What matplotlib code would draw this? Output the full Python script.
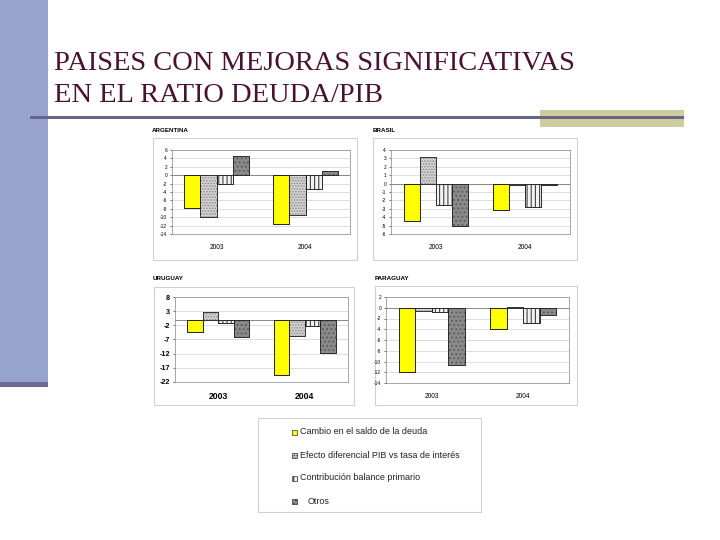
import numpy as np
import matplotlib.pyplot as plt
from matplotlib.patches import Rectangle

plt.rcParams['hatch.linewidth'] = 0.8
plt.rcParams['axes.unicode_minus'] = False

years = ["2003", "2004"]
series = ["Cambio en el saldo de la deuda",
          "Efecto diferencial PIB vs tasa de interés",
          "Contribución balance primario",
          "Otros"]

arg_2003 = [-7.8, -10.0, -2.2, 4.5]
arg_2004 = [-11.6, -9.4, -3.4, 1.0]
bra_2003 = [-4.4, 3.2, -2.5, -5.1]
bra_2004 = [-3.1, -0.2, -2.8, -0.2]
uru_2003 = [-4.4, 2.6, -1.2, -6.0]
uru_2004 = [-19.7, -5.8, -2.4, -11.6]
par_2003 = [-12.0, -0.6, -0.7, -10.7]
par_2004 = [-3.9, 0.2, -2.9, -1.4]

W, H = 720, 540
fig = plt.figure(figsize=(7.2, 5.4), dpi=100)
fig.patch.set_facecolor("white")


def box(x0, y0, x1, y1):
    return [x0 / W, 1 - y1 / H, (x1 - x0) / W, (y1 - y0) / H]


# slide decoration
deco = fig.add_axes([0, 0, 1, 1])
deco.set_xlim(0, W)
deco.set_ylim(H, 0)
deco.axis("off")
deco.add_patch(Rectangle((0, 0), 48, 382, color="#96a3cd", lw=0))
deco.add_patch(Rectangle((0, 382), 48, 5, color="#6b6b8f", lw=0))
deco.add_patch(Rectangle((540, 110), 144, 17, color="#cfcca0", lw=0))
deco.add_patch(Rectangle((30, 115.5), 654, 3.5, color="#666688", lw=0))
deco.text(54, 70, "PAISES CON MEJORAS SIGNIFICATIVAS", fontsize=20.5,
          family="Liberation Serif", color="#4a1232", va="baseline")
deco.text(54, 102, "EN EL RATIO DEUDA/PIB", fontsize=20.5,
          family="Liberation Serif", color="#4a1232", va="baseline")

# panel frames and titles
for fx0, fy0, fx1, fy1 in [(153, 138, 357, 260), (373, 138, 577, 260),
                           (154, 287, 354, 405), (375, 286, 577, 405),
                           (258, 418, 481, 512)]:
    deco.add_patch(Rectangle((fx0, fy0), fx1 - fx0, fy1 - fy0, fill=False,
                             ec="#d0d0d0", lw=0.8))
for tx, ty, name in [(152, 131, "ARGENTINA"), (373, 131, "BRASIL"),
                     (153, 279, "URUGUAY"), (375, 279, "PARAGUAY")]:
    deco.text(tx, ty, name, fontsize=4.5, fontweight="bold",
              family="Liberation Sans", va="center")

faces = ["#ffff00", "#d4d4d4", "#f2f2f2", "#8a8a8a"]
hatches = [None, "......", "||||", "...."]
hcolors = ["black", "#8a8a8a", "#444444", "#5a5a5a"]


def panel(rect, v03, v04, ylim, ticks, tsize, ysize, bold):
    ax = fig.add_axes(box(*rect))
    x = np.arange(len(years))
    w = 0.18
    vals = np.array([v03, v04])
    for i in range(4):
        bars = ax.bar(x + (i - 1.5) * w, vals[:, i], w, color=faces[i],
                      hatch=hatches[i], edgecolor=hcolors[i], lw=0.5, zorder=3)
        for b in bars:
            ax.add_patch(Rectangle(b.get_xy(), b.get_width(), b.get_height(),
                                   fill=False, ec="#222222", lw=0.6, zorder=4))
    ax.set_xlim(-0.5, 1.5)
    ax.set_ylim(*ylim)
    ax.set_yticks(ticks)
    ax.yaxis.grid(True, color="#d8d8d8", lw=0.6, zorder=0)
    ax.axhline(0, color="#888888", lw=0.7, zorder=2)
    ax.set_xticks(x)
    ax.set_xticklabels(years, fontsize=ysize,
                       fontweight="bold" if bold else "normal",
                       family="Liberation Sans")
    ax.tick_params(axis="x", length=0, pad=7)
    ax.tick_params(axis="y", labelsize=tsize, length=1.5, width=0.4, pad=2)
    for t in ax.get_yticklabels():
        t.set_family("Liberation Sans")
        if bold:
            t.set_fontweight("bold")
    for s in ax.spines.values():
        s.set_color("#999999")
        s.set_linewidth(0.6)
    return ax


panel((172, 150, 350, 234), arg_2003, arg_2004, (-14, 6),
      np.arange(-14, 7, 2), 3.5, 4.8, False)
panel((391, 150, 570, 234), bra_2003, bra_2004, (-6, 4),
      np.arange(-6, 5, 1), 3.5, 4.8, False)
panel((175, 297, 348, 382), uru_2003, uru_2004, (-22, 8),
      np.arange(-22, 9, 5), 5.2, 6.2, True)
panel((386, 297, 569, 383), par_2003, par_2004, (-14, 2),
      np.arange(-14, 3, 2), 3.5, 4.8, False)

# legend
ly = [432, 455, 478, 501]
for i, name in enumerate(series):
    deco.add_patch(Rectangle((292, ly[i] - 2.5), 5, 5, facecolor=faces[i],
                             hatch=hatches[i], edgecolor="#333333", lw=0.5))
    tx = 308 if name == "Otros" else 300
    deco.text(tx, ly[i], name, fontsize=6.5, family="Liberation Sans",
              va="center", color="#222222")

fig.savefig("out.png", dpi=100)
